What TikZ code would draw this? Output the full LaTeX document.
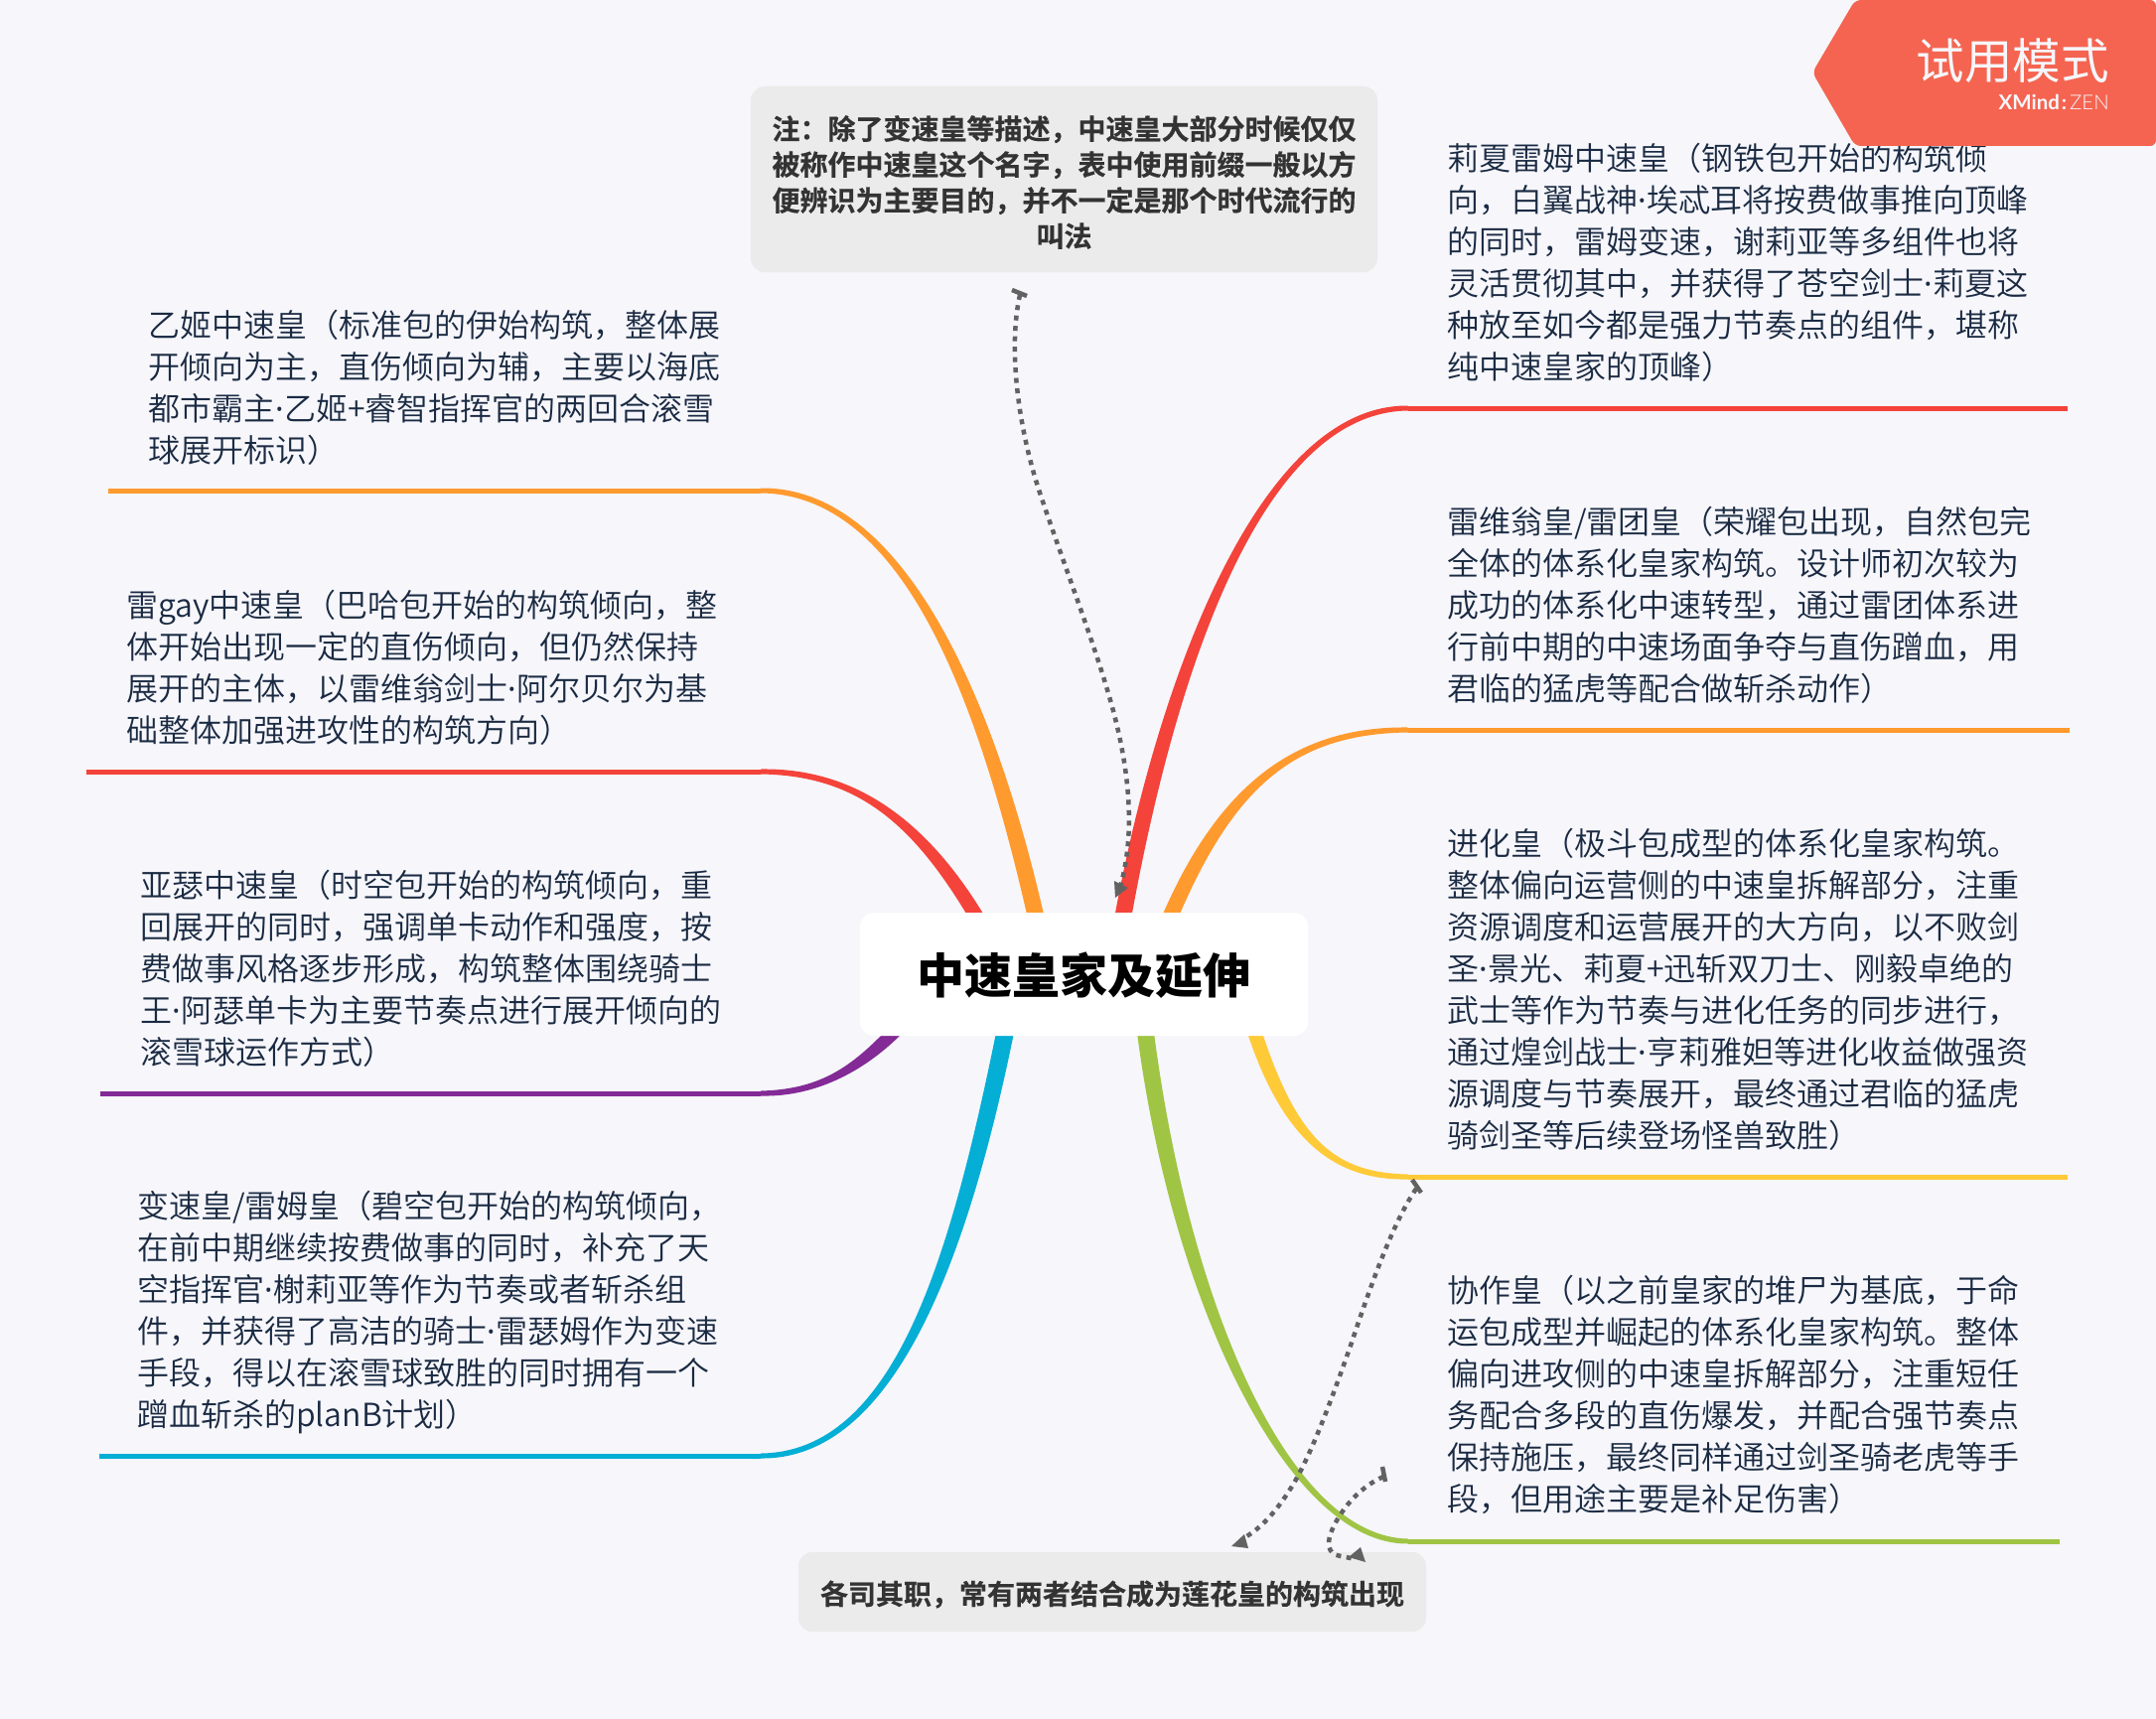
\documentclass[tikz,border=0pt]{standalone}
\usepackage{fontspec}
\setmainfont{Noto Sans CJK SC DemiLight}
\newfontfamily\cjkreg{Noto Sans CJK SC}
\newfontfamily\cjkbold[FakeBold=0.5]{Noto Sans CJK SC Bold}
\newfontfamily\cjkblack{Noto Sans CJK SC Black}
\newfontfamily\brandbold{Lato Bold}
\newfontfamily\brandlight{Lato Light}
\newfontfamily\dotfont{Noto Sans}
\newcommand{\md}{{\dotfont\kern0.3pt ·\kern0.3pt}}
\usetikzlibrary{calc}
\definecolor{pagebg}{HTML}{F6F6FB}
\definecolor{bodyink}{HTML}{1A2A42}
\definecolor{noteink}{HTML}{333333}
\definecolor{notefill}{HTML}{EBEBEB}
\definecolor{linkgray}{HTML}{626262}
\definecolor{bred}{HTML}{F4433A}
\definecolor{borange}{HTML}{FF9A2E}
\definecolor{byellow}{HTML}{FFCA38}
\definecolor{bgreen}{HTML}{A0C444}
\definecolor{bpurple}{HTML}{832A96}
\definecolor{bblue}{HTML}{05AED5}
\definecolor{badge}{HTML}{F56450}
\tikzset{
  x=1pt,y=-1pt,
  topic/.style={inner sep=0pt,anchor=west,align=left,text=bodyink,font=\fontsize{32}{42}\selectfont},
  notebox/.style={fill=notefill,rounded corners=14pt,inner sep=0pt,align=center,text=noteink,font=\cjkbold\fontsize{28}{36}\selectfont},
  rootbox/.style={fill=white,rounded corners=14pt,inner sep=0pt,align=center,text=black,font=\cjkblack\fontsize{48}{56}\selectfont},
  uline/.style={line width=5pt},
  link/.style={draw=linkgray,line width=4.5pt,dash pattern=on 5pt off 5.5pt},
  tick/.style={draw=linkgray,line width=4.5pt},
  tip/.style={fill=linkgray},
}
% #1 colour, #2 x of upper edge at start, #3 x of lower edge at start, #4 y of start, #5 c1, #6 c2, #7 end x, #8 end y, #9 far end x
\newcommand{\branchline}[9]{%
  \fill[#1] (#2,#4) .. controls ($(#5)+({(#2-#3)/2},0)$) and ($(#6)+(0,-4)$) .. (#7,#8-2.5) -- (#7,#8+2.5)
     .. controls ($(#6)+(0,4)$) and ($(#5)-({(#2-#3)/2},0)$) .. (#3,#4) -- cycle;
  \draw[#1,uline] (#7,#8) -- (#9,#8);
}
\begin{document}
\begin{tikzpicture}
\useasboundingbox (0,0) rectangle (2171,1731);
\fill[pagebg] (0,0) rectangle (2171,1731);
% branches
\branchline{bred}{1122}{1139}{925}{1172,695}{1265,411}{1418}{411}{2082}
\branchline{borange}{1169}{1186}{925}{1235,790}{1305,735}{1418}{735}{2084}
\branchline{byellow}{1271}{1256}{1040}{1300,1150}{1345,1185}{1418}{1185}{2082}
\branchline{bgreen}{1162}{1145}{1040}{1190,1320}{1300,1552}{1418}{1552}{2074}
\branchline{borange}{1052}{1035}{925}{990,690}{905,494}{766}{494}{109}
\branchline{bred}{993}{976}{925}{925,825}{860,777}{766}{777}{87}
\branchline{bpurple}{890}{909}{1040}{865,1075}{825,1101}{766}{1101}{101}
\branchline{bblue}{1003}{1021}{1040}{965,1270}{900,1466}{766}{1466}{100}
% root
\node[rootbox,minimum width=451pt,minimum height=124pt] (root) at (1091.5,981) {\raisebox{-1.5pt}[\height][\depth]{中速皇家及延伸}};
% notes
\node[notebox,minimum width=631pt,minimum height=187pt] (noteTop) at (1071.5,180.5) {\raisebox{-3pt}[\height][\depth]{\parbox{631pt}{\centering 注：除了变速皇等描述，中速皇大部分时候仅仅\\被称作中速皇这个名字，表中使用前缀一般以方\\便辨识为主要目的，并不一定是那个时代流行的\\叫法}}};
\node[notebox,minimum width=632pt,minimum height=80pt] (noteBottom) at (1120,1603) {\raisebox{-2.5pt}[\height][\depth]{各司其职，常有两者结合成为莲花皇的构筑出现}};
% topics
\node[topic] (r1) at (1457,264) {莉夏雷姆中速皇（钢铁包开始的构筑倾\\向，白翼战神\md 埃忒耳将按费做事推向顶峰\\的同时，雷姆变速，谢莉亚等多组件也将\\灵活贯彻其中，并获得了苍空剑士\md 莉夏这\\种放至如今都是强力节奏点的组件，堪称\\纯中速皇家的顶峰）};
\node[topic] (r2) at (1457,609) {雷维翁皇/雷团皇（荣耀包出现，自然包完\\全体的体系化皇家构筑。设计师初次较为\\成功的体系化中速转型，通过雷团体系进\\行前中期的中速场面争夺与直伤蹭血，用\\君临的猛虎等配合做斩杀动作）};
\node[topic] (r3) at (1457,996) {进化皇（极斗包成型的体系化皇家构筑。\\整体偏向运营侧的中速皇拆解部分，注重\\资源调度和运营展开的大方向，以不败剑\\圣\md 景光、莉夏+迅斩双刀士、刚毅卓绝的\\武士等作为节奏与进化任务的同步进行，\\通过煌剑战士\md 亨莉雅妲等进化收益做强资\\源调度与节奏展开，最终通过君临的猛虎\\骑剑圣等后续登场怪兽致胜）};
\node[topic] (r4) at (1457,1404) {协作皇（以之前皇家的堆尸为基底，于命\\运包成型并崛起的体系化皇家构筑。整体\\偏向进攻侧的中速皇拆解部分，注重短任\\务配合多段的直伤爆发，并配合强节奏点\\保持施压，最终同样通过剑圣骑老虎等手\\段，但用途主要是补足伤害）};
\node[topic] (l1) at (149,390) {乙姬中速皇（标准包的伊始构筑，整体展\\开倾向为主，直伤倾向为辅，主要以海底\\都市霸主\md 乙姬+睿智指挥官的两回合滚雪\\球展开标识）};
\node[topic] (l2) at (127,672) {雷gay中速皇（巴哈包开始的构筑倾向，整\\体开始出现一定的直伤倾向，但仍然保持\\展开的主体，以雷维翁剑士\md 阿尔贝尔为基\\础整体加强进攻性的构筑方向）};
\node[topic] (l3) at (141,975.5) {亚瑟中速皇（时空包开始的构筑倾向，重\\回展开的同时，强调单卡动作和强度，按\\费做事风格逐步形成，构筑整体围绕骑士\\王\md 阿瑟单卡为主要节奏点进行展开倾向的\\滚雪球运作方式）};
\node[topic] (l4) at (138,1322) {变速皇/雷姆皇（碧空包开始的构筑倾向，\\在前中期继续按费做事的同时，补充了天\\空指挥官\md 榭莉亚等作为节奏或者斩杀组\\件，并获得了高洁的骑士\md 雷瑟姆作为变速\\手段，得以在滚雪球致胜的同时拥有一个\\蹭血斩杀的planB计划）};
% connectors
\coordinate (topFree) at (1027,297);
\draw[tick] (1019,292) -- (1034,298);
\draw[link] (topFree) .. controls (1015,350) and (1025,430) .. (1047,496) .. controls (1071,568) and (1103,650) .. (1120,712) .. controls (1133,760) and (1146,830) .. (1128,893);
\fill[tip] (1123,904) -- (1122,887) -- (1136,894) -- cycle;
\coordinate (midFree) at (1426,1197);
\draw[tick] (1422,1188) -- (1431,1201);
\draw[link] (midFree) .. controls (1405,1228) and (1385,1280) .. (1361,1352) .. controls (1340,1412) and (1320,1465) .. (1302,1495) .. controls (1288,1518) and (1272,1538) .. (1252,1549);
\fill[tip] (1240,1557) -- (1253,1545) -- (1257,1559) -- cycle;
\coordinate (lowFree) at (1393,1487);
\draw[tick] (1392,1477) -- (1395,1492);
\draw[link] (lowFree) .. controls (1370,1497) and (1352,1518) .. (1343,1537) .. controls (1335,1553) and (1336,1565) .. (1350,1567) -- (1365,1570);
\fill[tip] (1375,1573) -- (1358,1568) -- (1370,1558) -- cycle;
% badge
\fill[badge,rounded corners=6pt] (1868,0) -- (2171,0) -- (2171,147) -- (1868,147) -- (1825,73) -- cycle;
\node[inner sep=0pt,anchor=east,text=pagebg,font=\cjkreg\fontsize{48.5}{56}\selectfont] (trial) at (2124,61) {试用模式};
\node[inner sep=0pt,anchor=east,text=pagebg,font=\fontsize{20.5}{24}\selectfont] (brand) at (2124,103) {{\brandbold XMind\kern2pt:\kern3pt}{\brandlight ZEN}};
\end{tikzpicture}
\end{document}
